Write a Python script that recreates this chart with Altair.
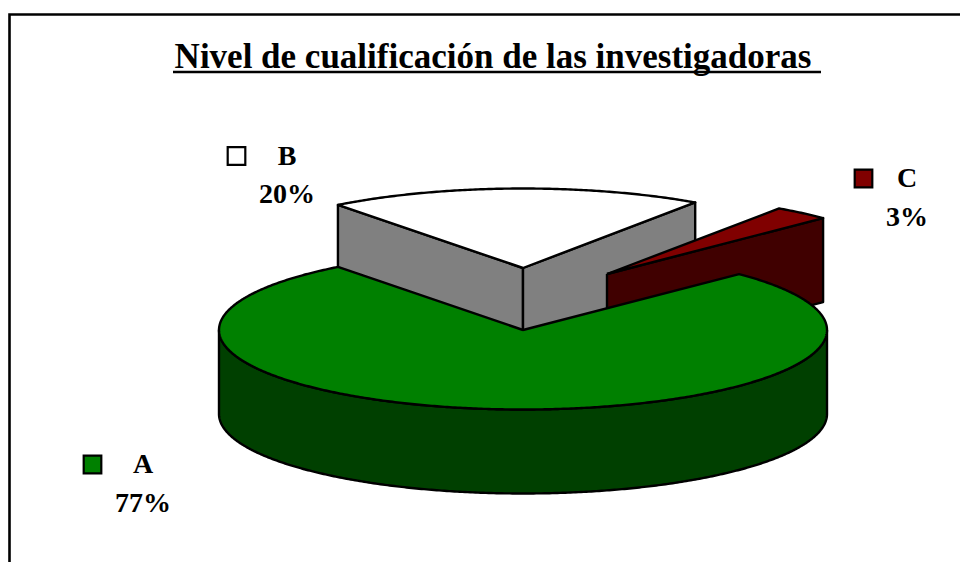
import math
import altair as alt
import pandas as pd

# Chart values
categories = ["A", "B", "C"]
shares = [77, 20, 3]
labels = ["77%", "20%", "3%"]
top_colors = ["#008000", "#ffffff", "#800000"]
side_colors = ["#004000", "#808080", "#400000"]

TITLE = "Nivel de cualificación de las investigadoras"
SERIF = "Liberation Serif"

# Pie layout (projection of a tilted disc), in page pixels
CX, CY, RX, RY, DEPTH = 523, 330, 304, 79.5, 84
START = 232.5  # where A ends / B starts, degrees on the ellipse
EXPLODE = {"A": (0, 0), "B": (0, -62), "C": (84, -56)}

# angular extents from the shares
spans = {}
a = START
for cat in ["B", "C", "A"]:
    sweep = shares[categories.index(cat)] * 3.6
    spans[cat] = (a, a + sweep)
    a += sweep


def rim(cat, t, drop=0):
    ox, oy = EXPLODE[cat]
    r = math.radians(t)
    return (CX + ox + RX * math.cos(r), CY + oy + RY * math.sin(r) + drop)


def apex(cat, drop=0):
    ox, oy = EXPLODE[cat]
    return (CX + ox, CY + oy + drop)


def arc(cat, t0, t1, drop=0):
    n = max(2, int(abs(t1 - t0) * 2))
    return [rim(cat, t0 + (t1 - t0) * i / n, drop) for i in range(n + 1)]


def top_face(cat):
    t0, t1 = spans[cat]
    return [apex(cat)] + arc(cat, t0, t1) + [apex(cat)]


def radial_wall(cat, t):
    p = rim(cat, t)
    q = rim(cat, t, DEPTH)
    return [apex(cat), p, q, apex(cat, DEPTH), apex(cat)]


def front_wall(cat, t0, t1):
    upper = arc(cat, t0, t1)
    lower = arc(cat, t1, t0, DEPTH)
    return upper + lower + [upper[0]]


X = alt.Scale(domain=[8, 960])
Y = alt.Scale(domain=[562, 8])


def xy(df):
    return dict(
        x=alt.X("x:Q", scale=X, axis=None),
        y=alt.Y("y:Q", scale=Y, axis=None),
        order="i:Q",
    )


def poly(points, fill, width=2.4):
    df = pd.DataFrame(points, columns=["x", "y"])
    df["i"] = range(len(df))
    return (
        alt.Chart(df)
        .mark_line(fill=fill, stroke="black", strokeWidth=width, strokeJoin="round", clip=False)
        .encode(**xy(df))
    )


def stroke_only(points, width):
    df = pd.DataFrame(points, columns=["x", "y"])
    df["i"] = range(len(df))
    return alt.Chart(df).mark_line(stroke="black", strokeWidth=width).encode(**xy(df))


def text(rows, size, fw="bold"):
    df = pd.DataFrame(rows, columns=["x", "y", "t"])
    return (
        alt.Chart(df)
        .mark_text(font=SERIF, fontSize=size, fontWeight=fw, align="center", baseline="alphabetic", color="black")
        .encode(
            x=alt.X("x:Q", scale=X, axis=None),
            y=alt.Y("y:Q", scale=Y, axis=None),
            text="t:N",
        )
    )


iA, iB, iC = categories.index("A"), categories.index("B"), categories.index("C")

layers = [
    # outer frame
    stroke_only([(9.5, 562), (9.5, 14.5), (960, 14.5)], 2.6),
    # B
    poly(radial_wall("B", spans["B"][0]), side_colors[iB]),
    poly(radial_wall("B", spans["B"][1]), side_colors[iB]),
    poly(top_face("B"), top_colors[iB]),
    # C
    poly(radial_wall("C", spans["C"][1]), side_colors[iC]),
    poly(top_face("C"), top_colors[iC]),
    # A
    poly(front_wall("A", 0, 180), side_colors[iA]),
    poly(top_face("A"), top_colors[iA]),
    # title
    text([(493, 68, TITLE)], 35),
    stroke_only([(173, 72), (821, 72)], 2.4),
]

# legend keys
key_pos = {"A": (92.5, 464.5), "B": (236.5, 156), "C": (863.5, 178.5)}
text_pos = {"A": (143, 473, 512), "B": (287, 165, 203), "C": (907, 187, 226)}
key_df = pd.DataFrame(
    {
        "x": [key_pos[c][0] for c in categories],
        "y": [key_pos[c][1] for c in categories],
        "c": top_colors,
    }
)
layers.append(
    alt.Chart(key_df)
    .mark_square(size=310, stroke="black", strokeWidth=2.2, opacity=1, filled=True)
    .encode(
        x=alt.X("x:Q", scale=X, axis=None),
        y=alt.Y("y:Q", scale=Y, axis=None),
        fill=alt.Fill("c:N", scale=None),
    )
)
rows = []
for c, lab in zip(categories, labels):
    tx, y1, y2 = text_pos[c]
    rows.append((tx, y1, c))
    rows.append((tx, y2, lab))
layers.append(text(rows, 28))

chart = (
    alt.layer(*layers)
    .properties(width=952, height=554, padding=0, autosize=alt.AutoSizeParams(type="none"), background="white")
    .configure_view(stroke=None)
)
chart.save("out.html", embed_options={"renderer": "svg", "actions": False})
